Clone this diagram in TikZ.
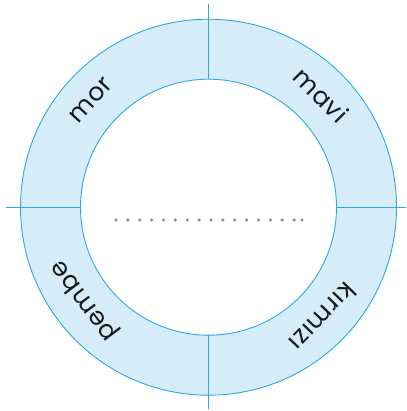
\documentclass[tikz,border=0pt]{standalone}
\usepackage{fontspec}
\setmainfont{Poppins}[LetterSpace=4]
\usetikzlibrary{calc}
\definecolor{ringfill}{HTML}{D6EDF9}
\definecolor{ringline}{HTML}{29AAE1}
\definecolor{dotgray}{HTML}{8A8A8A}
\tikzset{
  ringstroke/.style={draw=ringline, line width=0.9pt},
  divider/.style={draw=ringline, line width=1.1pt},
  colourlabel/.style={font=\fontsize{25}{25}\selectfont, inner sep=0pt, text=black!90},
}
\begin{document}
\begin{tikzpicture}[x=1pt,y=1pt]
\useasboundingbox (0,0) rectangle (406,411);
\coordinate (C) at (208.5,203.8);
% ring
\fill[ringfill, even odd rule] (C) circle[radius=188] (C) circle[radius=128];
\draw[ringstroke] (C) circle[radius=188];
\draw[ringstroke] (C) circle[radius=128];
% dividers
\coordinate (vtop) at (208.5,407);
\coordinate (vtopin) at (208.5,331.8);
\coordinate (vbotin) at (208.5,75.8);
\coordinate (vbot) at (208.5,2);
\coordinate (hleft) at (6,203.8);
\coordinate (hleftin) at (80.5,203.8);
\coordinate (hrightin) at (336.5,203.8);
\coordinate (hright) at (406,203.8);
\draw[divider] (vtop) -- (vtopin);
\draw[divider] (vbotin) -- (vbot);
\draw[divider] (hleft) -- (hleftin);
\draw[divider] (hrightin) -- (hright);
% dotted line
\foreach \i in {0,...,15} {
  \fill[dotgray] (116+11.87*\i,191) circle[radius=1.7];
}
\fill[dotgray] (302,191) circle[radius=1.7];
% labels
\node[colourlabel, rotate=47.7] (mor) at ($(C)+(137.7:159)$) {mor};
\node[colourlabel, rotate=-45.1] (mavi) at ($(C)+(44.9:159)$) {mavi};
\node[colourlabel, rotate=226.1] (kirmizi) at ($(C)+(-43.9:159)$) {kırmızı};
\node[colourlabel, rotate=127] (pembe) at ($(C)+(217:155)$) {pembe};
\end{tikzpicture}
\end{document}
